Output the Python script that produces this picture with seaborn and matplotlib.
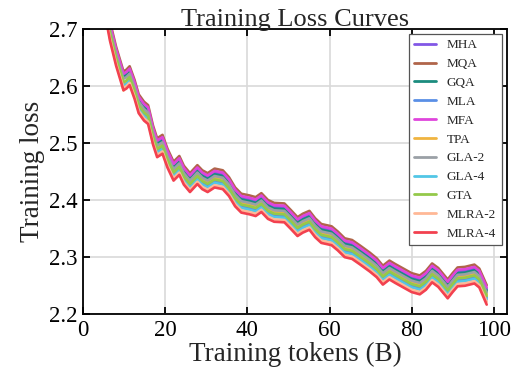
import matplotlib
matplotlib.use("Agg")
import matplotlib.pyplot as plt
import matplotlib.patheffects as pe
import seaborn as sns
import pandas as pd

tokens = [5, 6.5, 8, 9.8, 10.5, 11.3, 12.5, 13.5, 14.8, 15.8,
          17, 18, 19.3, 20.5, 22, 23.4, 24.5, 26, 27.8, 29,
          30.3, 32, 34, 35.5, 37, 38.5, 40.5, 42, 43.4, 45,
          46.5, 49, 50.5, 52.2, 53.5, 55.1, 56.5, 58, 60.5, 62,
          63.7, 65.5, 67.5, 69.8, 71.5, 73, 74.6, 76, 78, 80,
          82, 83.5, 85, 86.5, 88.8, 90, 91.2, 93, 95.3, 96.5,
          98.3]

mha = [2.763, 2.705, 2.661, 2.618, 2.621, 2.627, 2.603, 2.578, 2.565, 2.559,
       2.523, 2.501, 2.507, 2.483, 2.460, 2.470, 2.453, 2.440, 2.454, 2.445,
       2.440, 2.448, 2.445, 2.433, 2.415, 2.404, 2.401, 2.398, 2.405, 2.393,
       2.388, 2.387, 2.376, 2.363, 2.369, 2.374, 2.361, 2.351, 2.347, 2.338,
       2.326, 2.323, 2.313, 2.301, 2.291, 2.278, 2.287, 2.281, 2.273, 2.265,
       2.261, 2.269, 2.282, 2.274, 2.254, 2.265, 2.275, 2.276, 2.280, 2.273,
       2.244]
mqa = [2.770, 2.712, 2.668, 2.625, 2.628, 2.634, 2.610, 2.585, 2.572, 2.566,
       2.530, 2.508, 2.514, 2.490, 2.467, 2.477, 2.460, 2.447, 2.461, 2.452,
       2.447, 2.455, 2.452, 2.440, 2.422, 2.411, 2.408, 2.405, 2.412, 2.400,
       2.395, 2.394, 2.383, 2.370, 2.376, 2.381, 2.368, 2.358, 2.354, 2.345,
       2.333, 2.330, 2.320, 2.308, 2.298, 2.285, 2.294, 2.288, 2.280, 2.272,
       2.268, 2.276, 2.289, 2.281, 2.261, 2.272, 2.282, 2.283, 2.287, 2.280,
       2.251]
gqa = [2.760, 2.702, 2.658, 2.615, 2.618, 2.624, 2.600, 2.575, 2.562, 2.556,
       2.520, 2.498, 2.504, 2.480, 2.457, 2.467, 2.450, 2.437, 2.451, 2.442,
       2.437, 2.445, 2.442, 2.430, 2.412, 2.401, 2.398, 2.395, 2.402, 2.390,
       2.385, 2.384, 2.373, 2.360, 2.366, 2.371, 2.358, 2.348, 2.344, 2.335,
       2.323, 2.320, 2.310, 2.298, 2.288, 2.275, 2.284, 2.278, 2.270, 2.262,
       2.258, 2.266, 2.279, 2.271, 2.251, 2.262, 2.272, 2.273, 2.277, 2.270,
       2.241]
mla = [2.748, 2.690, 2.646, 2.603, 2.606, 2.612, 2.588, 2.563, 2.550, 2.544,
       2.508, 2.486, 2.492, 2.468, 2.445, 2.455, 2.438, 2.425, 2.439, 2.430,
       2.425, 2.433, 2.430, 2.418, 2.400, 2.389, 2.386, 2.383, 2.390, 2.378,
       2.373, 2.372, 2.361, 2.348, 2.354, 2.359, 2.346, 2.336, 2.332, 2.323,
       2.311, 2.308, 2.298, 2.286, 2.276, 2.263, 2.272, 2.266, 2.258, 2.250,
       2.246, 2.254, 2.267, 2.259, 2.239, 2.250, 2.260, 2.261, 2.265, 2.258,
       2.229]
mfa = [2.766, 2.708, 2.664, 2.621, 2.624, 2.630, 2.606, 2.581, 2.568, 2.562,
       2.526, 2.504, 2.510, 2.486, 2.463, 2.473, 2.456, 2.443, 2.457, 2.448,
       2.443, 2.451, 2.448, 2.436, 2.418, 2.407, 2.404, 2.401, 2.408, 2.396,
       2.391, 2.390, 2.379, 2.366, 2.372, 2.377, 2.364, 2.354, 2.350, 2.341,
       2.329, 2.326, 2.316, 2.304, 2.294, 2.281, 2.290, 2.284, 2.276, 2.268,
       2.264, 2.272, 2.285, 2.277, 2.257, 2.268, 2.278, 2.279, 2.283, 2.276,
       2.247]
tpa = [2.754, 2.696, 2.652, 2.592, 2.608, 2.618, 2.594, 2.569, 2.556, 2.550,
       2.514, 2.492, 2.498, 2.474, 2.451, 2.461, 2.444, 2.431, 2.445, 2.436,
       2.431, 2.439, 2.436, 2.424, 2.406, 2.395, 2.392, 2.389, 2.396, 2.384,
       2.379, 2.378, 2.367, 2.354, 2.360, 2.365, 2.352, 2.342, 2.338, 2.329,
       2.317, 2.314, 2.304, 2.292, 2.282, 2.269, 2.278, 2.272, 2.264, 2.256,
       2.252, 2.260, 2.273, 2.265, 2.245, 2.256, 2.266, 2.267, 2.271, 2.264,
       2.235]
gla2 = [2.757, 2.699, 2.655, 2.612, 2.615, 2.621, 2.597, 2.572, 2.559, 2.553,
        2.517, 2.495, 2.501, 2.477, 2.454, 2.464, 2.447, 2.434, 2.448, 2.439,
        2.434, 2.442, 2.439, 2.427, 2.409, 2.398, 2.395, 2.392, 2.399, 2.387,
        2.382, 2.381, 2.370, 2.357, 2.363, 2.368, 2.355, 2.345, 2.341, 2.332,
        2.320, 2.317, 2.307, 2.295, 2.285, 2.272, 2.281, 2.275, 2.267, 2.259,
        2.255, 2.263, 2.276, 2.268, 2.248, 2.259, 2.269, 2.270, 2.274, 2.267,
        2.238]
gla4 = [2.745, 2.687, 2.643, 2.600, 2.603, 2.609, 2.585, 2.560, 2.547, 2.541,
        2.505, 2.483, 2.489, 2.465, 2.442, 2.452, 2.435, 2.422, 2.436, 2.427,
        2.422, 2.430, 2.427, 2.415, 2.397, 2.386, 2.383, 2.380, 2.387, 2.375,
        2.370, 2.369, 2.358, 2.345, 2.351, 2.356, 2.343, 2.333, 2.329, 2.320,
        2.308, 2.305, 2.295, 2.283, 2.273, 2.260, 2.269, 2.263, 2.255, 2.247,
        2.243, 2.251, 2.264, 2.256, 2.236, 2.247, 2.257, 2.258, 2.262, 2.255,
        2.226]
gta = [2.751, 2.693, 2.649, 2.606, 2.609, 2.615, 2.591, 2.566, 2.553, 2.547,
       2.511, 2.489, 2.495, 2.471, 2.448, 2.458, 2.441, 2.428, 2.442, 2.433,
       2.428, 2.436, 2.433, 2.421, 2.403, 2.392, 2.389, 2.386, 2.393, 2.381,
       2.376, 2.375, 2.364, 2.351, 2.357, 2.362, 2.349, 2.339, 2.335, 2.326,
       2.314, 2.311, 2.301, 2.289, 2.279, 2.266, 2.275, 2.269, 2.261, 2.253,
       2.249, 2.257, 2.270, 2.262, 2.242, 2.253, 2.263, 2.264, 2.268, 2.261,
       2.232]
mlra2 = [2.741, 2.683, 2.639, 2.596, 2.599, 2.605, 2.581, 2.556, 2.543, 2.537,
         2.501, 2.479, 2.485, 2.461, 2.438, 2.448, 2.431, 2.418, 2.432, 2.423,
         2.418, 2.426, 2.423, 2.411, 2.393, 2.382, 2.379, 2.376, 2.383, 2.371,
         2.366, 2.365, 2.354, 2.341, 2.347, 2.352, 2.339, 2.329, 2.325, 2.316,
         2.304, 2.301, 2.291, 2.279, 2.269, 2.256, 2.265, 2.259, 2.251, 2.243,
         2.239, 2.247, 2.260, 2.252, 2.232, 2.243, 2.253, 2.254, 2.258, 2.251,
         2.222]
mlra4 = [2.737, 2.679, 2.635, 2.592, 2.595, 2.601, 2.577, 2.552, 2.539, 2.533,
         2.497, 2.475, 2.481, 2.457, 2.434, 2.444, 2.427, 2.414, 2.428, 2.419,
         2.414, 2.422, 2.419, 2.407, 2.389, 2.378, 2.375, 2.372, 2.379, 2.367,
         2.362, 2.361, 2.350, 2.337, 2.343, 2.348, 2.335, 2.325, 2.321, 2.312,
         2.300, 2.297, 2.287, 2.275, 2.265, 2.252, 2.261, 2.255, 2.247, 2.239,
         2.235, 2.243, 2.256, 2.248, 2.228, 2.239, 2.249, 2.250, 2.254, 2.247,
         2.217]

models = ["MHA", "MQA", "GQA", "MLA", "MFA", "TPA", "GLA-2", "GLA-4", "GTA",
          "MLRA-2", "MLRA-4"]
series = [mha, mqa, gqa, mla, mfa, tpa, gla2, gla4, gta, mlra2, mlra4]
colors = ["#8257e6", "#b0654a", "#1b8c7e", "#5a8fe6", "#df45dc", "#f0b440",
          "#9aa0a6", "#52c6e6", "#94c94a", "#ffb896", "#f2414f"]

rows = []
for name, vals in zip(models, series):
    for t, v in zip(tokens, vals):
        rows.append({"tokens": t, "loss": v, "model": name})
df = pd.DataFrame(rows)

sns.set_theme(style="ticks")
plt.rcParams["font.family"] = ["Liberation Serif", "DejaVu Serif"]

fig = plt.figure(figsize=(5.14, 3.81), dpi=100)
ax = fig.add_axes([0.162, 0.175, 0.824, 0.75])

sns.lineplot(data=df, x="tokens", y="loss", hue="model", hue_order=models,
             palette=dict(zip(models, colors)), linewidth=1.9, ax=ax,
             estimator=None, sort=False)

for ln in ax.lines:
    ln.set_solid_joinstyle("round")
    ln.set_solid_capstyle("round")

ax.set_xlim(0, 103.2)
ax.set_ylim(2.2, 2.7)
ax.set_xticks([0, 20, 40, 60, 80, 100])
ax.set_yticks([2.2, 2.3, 2.4, 2.5, 2.6, 2.7])
ax.grid(True, color="#d9d9d9", linewidth=1.2)
ax.set_axisbelow(True)
for s in ax.spines.values():
    s.set_color("black")
    s.set_linewidth(1.3)
ax.tick_params(direction="in", length=5, width=1.3, top=True, right=True,
               labelsize=16.5, colors="black", pad=4)
ax.set_xlabel("Training tokens (B)", fontsize=19.5, labelpad=1)
ax.set_ylabel("Training loss", fontsize=19.5, labelpad=3)
ax.set_title("Training Loss Curves", fontsize=19, pad=2)

leg = ax.legend(loc="upper right", fontsize=9.5, frameon=True, fancybox=False,
                edgecolor="#555555", framealpha=1, borderaxespad=0.4,
                handlelength=1.7, handletextpad=0.8, labelspacing=0.5)
leg.get_frame().set_linewidth(0.9)
for h in leg.get_lines():
    h.set_linewidth(2)

fig.savefig("out.png", dpi=100)
